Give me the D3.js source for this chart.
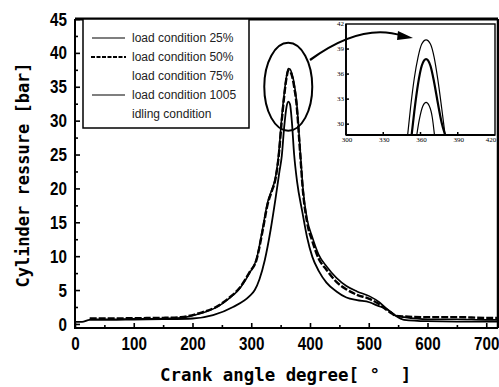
<!DOCTYPE html>
<html><head><meta charset="utf-8">
<script src="https://cdn.jsdelivr.net/npm/d3@7/dist/d3.min.js"></script>
<style>html,body{margin:0;padding:0;background:#fff;} svg{display:block}</style>
</head><body><svg id="c" width="499" height="387"></svg>
<script>
// ---------- data ----------
const xTicks = [0, 100, 200, 300, 400, 500, 600, 700];
const xMinorTicks = [50, 150, 250, 350, 450, 550, 650];
const yTicks = [0, 5, 10, 15, 20, 25, 30, 35, 40, 45];
const yMinorTicks = [2.5, 7.5, 12.5, 17.5, 22.5, 27.5, 32.5, 37.5, 42.5];
const legendLabels = ["load condition 25%", "load condition 50%", "load condition 75%", "load condition 1005", "idling condition"];
const legendStyles = ["thin", "dash", "none", "thin", "none"];

// load condition 100 % (outer solid curve)
const load100Angle = [25, 60, 100, 150, 180, 212, 240, 263, 280, 297, 309, 319, 328, 335, 341, 346, 353, 360, 363, 366, 369, 373, 377, 383, 388, 395, 404, 415, 428, 445, 462, 480, 501, 518, 530, 540, 546, 560, 600, 650, 700, 720];
const load100Pressure = [0.7, 0.7, 0.75, 0.8, 0.9, 1.5, 2.4, 3.8, 5.2, 7.5, 9.6, 13.9, 18.0, 19.8, 21.5, 24.5, 31.5, 36.5, 37.7, 37.6, 37.0, 35.5, 33.0, 26.0, 20.0, 15.5, 12.8, 10.2, 8.5, 6.8, 5.6, 4.8, 4.1, 3.2, 2.3, 1.6, 1.2, 1.0, 0.7, 0.7, 0.6, 0.6];
// load condition 50 % (thick dashed curve)
const load50Angle = [25, 60, 100, 150, 180, 212, 240, 263, 280, 297, 309, 319, 328, 335, 341, 346, 353, 360, 363, 366, 369, 373, 377, 383, 388, 395, 404, 415, 428, 445, 462, 480, 501, 518, 530, 540, 546, 560, 600, 650, 700, 720];
const load50Pressure = [0.8, 0.8, 0.85, 0.9, 1.0, 1.6, 2.5, 3.9, 5.3, 7.6, 9.5, 13.6, 17.7, 19.6, 21.3, 24.2, 31.0, 36.3, 37.4, 37.3, 36.7, 35.0, 32.5, 25.5, 19.6, 15.0, 12.2, 9.6, 8.0, 6.2, 5.1, 4.3, 3.7, 2.9, 2.1, 1.5, 1.2, 1.1, 1.0, 1.0, 0.9, 0.9];
// load condition 25 % (inner curve)
const load25Angle = [0, 12, 25, 60, 100, 150, 200, 235, 269, 297, 306, 314, 323, 333, 341, 348, 352, 356, 360, 363, 366, 369, 373, 378, 387, 395, 404, 415, 428, 445, 462, 480, 501, 515, 530, 540, 546, 560, 600, 650, 720];
const load25Pressure = [0.3, 0.3, 0.6, 0.6, 0.65, 0.7, 0.8, 1.3, 2.5, 4.1, 5.0, 6.6, 9.4, 13.9, 18.3, 22.5, 24.8, 29.0, 32.0, 32.8, 32.4, 30.0, 25.0, 21.0, 16.5, 12.8, 9.9, 7.8, 6.1, 4.8, 3.9, 3.5, 3.2, 2.7, 2.2, 1.6, 1.2, 0.6, 0.4, 0.35, 0.35];

// zoomed inset (peak region)
const insetXTicks = [300, 330, 360, 390, 420];
const insetYTicks = [30, 33, 36, 39, 42];
const insetOuterAngle = [349.5, 352, 355, 358, 361, 364.5, 368, 371, 374, 377, 380];
const insetOuterPressure = [28.5, 32.0, 35.5, 38.0, 39.6, 40.1, 39.6, 38.0, 35.3, 32.0, 28.5];
const insetMidAngle = [352.7, 355, 358, 361, 364.5, 368, 371, 374, 377, 380.3];
const insetMidPressure = [28.5, 31.5, 34.8, 37.0, 37.8, 37.0, 35.0, 32.5, 30.2, 28.5];
const insetLowAngle = [356.8, 359, 362, 364.5, 367, 369.5, 371.4];
const insetLowPressure = [28.5, 30.5, 32.2, 32.6, 32.2, 30.8, 28.5];

// ---------- drawing ----------
const svg = d3.select("#c");
const W = 499, H = 387;
const m = {l: 75, r: 498, t: 19, b: 328};
const x = d3.scaleLinear().domain([0, 720]).range([m.l, m.r]);
const y = d3.scaleLinear().domain([-0.6, 45]).range([m.b, m.t]);
const tickFont = "'Liberation Sans',Arial,sans-serif";
const labFont = "'DejaVu Sans Mono',monospace";
const SX = 0.8;

svg.append("rect").attr("width", W).attr("height", H).attr("fill", "#fff");
svg.append("defs").append("clipPath").attr("id", "plotclip")
  .append("rect").attr("x", m.l).attr("y", m.t).attr("width", m.r - m.l).attr("height", m.b - m.t);

const mkLine = (xs, ys, sx, sy) => d3.line().curve(d3.curveMonotoneX)
  .x((d, i) => sx(xs[i])).y((d, i) => sy(ys[i]))(xs);

const plot = svg.append("g").attr("clip-path", "url(#plotclip)");
plot.append("path").attr("d", mkLine(load25Angle, load25Pressure, x, y))
  .attr("fill", "none").attr("stroke", "#000").attr("stroke-width", 1.8);
plot.append("path").attr("d", mkLine(load100Angle, load100Pressure, x, y))
  .attr("fill", "none").attr("stroke", "#000").attr("stroke-width", 1.6);
plot.append("path").attr("d", mkLine(load50Angle, load50Pressure, x, y))
  .attr("fill", "none").attr("stroke", "#000").attr("stroke-width", 2.4).attr("stroke-dasharray", "7,2");

// axes
svg.append("g").attr("class", "xa").attr("transform", `translate(0,${m.b})`)
  .call(d3.axisBottom(x).tickValues(xTicks).tickSize(-5).tickPadding(9).tickFormat(d3.format("d")));
svg.append("g").attr("transform", `translate(0,${m.b})`)
  .call(d3.axisBottom(x).tickValues(xMinorTicks).tickSize(-3).tickFormat(""));
svg.append("g").attr("class", "ya").attr("transform", `translate(${m.l},0)`)
  .call(d3.axisLeft(y).tickValues(yTicks).tickSize(-5).tickPadding(8).tickFormat(d3.format("d")));
svg.append("g").attr("transform", `translate(${m.l},0)`)
  .call(d3.axisLeft(y).tickValues(yMinorTicks).tickSize(-3).tickFormat(""));
svg.selectAll(".domain").remove();
svg.selectAll(".tick line").attr("stroke", "#000").attr("stroke-width", 1.6);
svg.selectAll(".tick text").attr("fill", "#000").style("font-family", tickFont)
  .style("font-weight", "bold").style("font-size", "19px");
svg.selectAll(".xa .tick text").attr("transform", `scale(${SX},1)`);
svg.selectAll(".ya .tick text").attr("x", -8 / SX).attr("transform", `scale(${SX},1)`);

// frame
svg.append("line").attr("x1", m.l).attr("x2", m.l).attr("y1", m.t).attr("y2", m.b + 1).attr("stroke", "#000").attr("stroke-width", 2);
svg.append("line").attr("x1", m.l - 1).attr("x2", m.r).attr("y1", m.b).attr("y2", m.b).attr("stroke", "#000").attr("stroke-width", 2.2);
svg.append("line").attr("x1", m.l).attr("x2", m.r).attr("y1", m.t).attr("y2", m.t).attr("stroke", "#000").attr("stroke-width", 3);

// axis titles
svg.append("text").attr("x", 160).attr("y", 381).text("Crank angle degree[ °  ]")
  .style("font-family", labFont).style("font-weight", "bold").style("font-size", "17.4px").attr("fill", "#000")
  .attr("xml:space", "preserve").style("white-space", "pre");
svg.append("text").attr("transform", "translate(29,175) rotate(-90)").attr("text-anchor", "middle")
  .text("Cylinder ressure [bar]").style("font-family", labFont).style("font-weight", "bold")
  .style("font-size", "17px").attr("fill", "#000");

// legend
const lg = svg.append("g");
lg.append("rect").attr("x", 83).attr("y", m.t).attr("width", 166).attr("height", 109)
  .attr("fill", "#fff").attr("stroke", "#000").attr("stroke-width", 1.5);
legendLabels.forEach((lab, i) => {
  const cy = 38 + i * 19;
  if (legendStyles[i] === "thin") {
    lg.append("line").attr("x1", 92).attr("x2", 125).attr("y1", cy).attr("y2", cy).attr("stroke", "#000").attr("stroke-width", 1.1);
  } else if (legendStyles[i] === "dash") {
    lg.append("line").attr("x1", 91).attr("x2", 126).attr("y1", cy).attr("y2", cy).attr("stroke", "#000").attr("stroke-width", 2).attr("stroke-dasharray", "4,1.5");
  }
  lg.append("text").attr("x", 132).attr("y", cy + 4).text(lab)
    .style("font-family", "'Liberation Sans',Arial,sans-serif").style("font-size", "12px").attr("fill", "#222");
});

// inset
const ix = d3.scaleLinear().domain([300, 420]).range([346, 495]);
const iy = d3.scaleLinear().domain([28.7, 42]).range([135, 24]);
const ins = svg.append("g");
ins.append("rect").attr("x", 346).attr("y", 24).attr("width", 149).attr("height", 111)
  .attr("fill", "#fff").attr("stroke", "#000").attr("stroke-width", 1.4);
svg.append("defs").append("clipPath").attr("id", "insclip")
  .append("rect").attr("x", 346).attr("y", 24).attr("width", 149).attr("height", 111);
const ic = ins.append("g").attr("clip-path", "url(#insclip)");
ic.append("path").attr("d", mkLine(insetOuterAngle, insetOuterPressure, ix, iy)).attr("fill", "none").attr("stroke", "#000").attr("stroke-width", 1.2);
ic.append("path").attr("d", mkLine(insetMidAngle, insetMidPressure, ix, iy)).attr("fill", "none").attr("stroke", "#000").attr("stroke-width", 2.2);
ic.append("path").attr("d", mkLine(insetLowAngle, insetLowPressure, ix, iy)).attr("fill", "none").attr("stroke", "#000").attr("stroke-width", 1.2);
ins.append("line").attr("x1", 346).attr("x2", 495).attr("y1", 135).attr("y2", 135).attr("stroke", "#000").attr("stroke-width", 2);
ins.append("line").attr("x1", 346).attr("x2", 346).attr("y1", 24).attr("y2", 135).attr("stroke", "#000").attr("stroke-width", 1.8);
ins.selectAll(".ixt").data(insetXTicks.slice(1, -1)).join("line")
  .attr("x1", d => ix(d)).attr("x2", d => ix(d)).attr("y1", 135).attr("y2", 132).attr("stroke", "#000").attr("stroke-width", 1.5);
ins.selectAll(".iyt").data(insetYTicks.slice(0, -1)).join("line")
  .attr("x1", 346).attr("x2", 349).attr("y1", d => iy(d)).attr("y2", d => iy(d)).attr("stroke", "#000").attr("stroke-width", 1.5);
ins.selectAll(".ixl").data(insetXTicks).join("text")
  .attr("x", (d, i) => i === insetXTicks.length - 1 ? ix(d) - 4 : ix(d) + 1).attr("y", 142).attr("text-anchor", "middle").text(d => d)
  .style("font-family", "'Liberation Serif',serif").style("font-size", "7px").attr("fill", "#000");
ins.selectAll(".iyl").data(insetYTicks).join("text")
  .attr("x", 344).attr("y", d => iy(d) + 2).attr("text-anchor", "end").text(d => d)
  .style("font-family", "'Liberation Serif',serif").style("font-size", "7px").attr("fill", "#000");

// ellipse + arrow annotation
svg.append("ellipse").attr("cx", x(363)).attr("cy", y(35)).attr("rx", 24).attr("ry", 44)
  .attr("fill", "none").attr("stroke", "#000").attr("stroke-width", 2);
svg.append("path").attr("d", "M310,60 Q362,22 403,36").attr("fill", "none").attr("stroke", "#000").attr("stroke-width", 2.2);
svg.append("path").attr("d", "M398,31 L413,38 L397,40 Z").attr("fill", "#000");

// right border on top
svg.append("line").attr("x1", m.r).attr("x2", m.r).attr("y1", m.t).attr("y2", m.b).attr("stroke", "#000").attr("stroke-width", 2.5);
</script></body></html>
